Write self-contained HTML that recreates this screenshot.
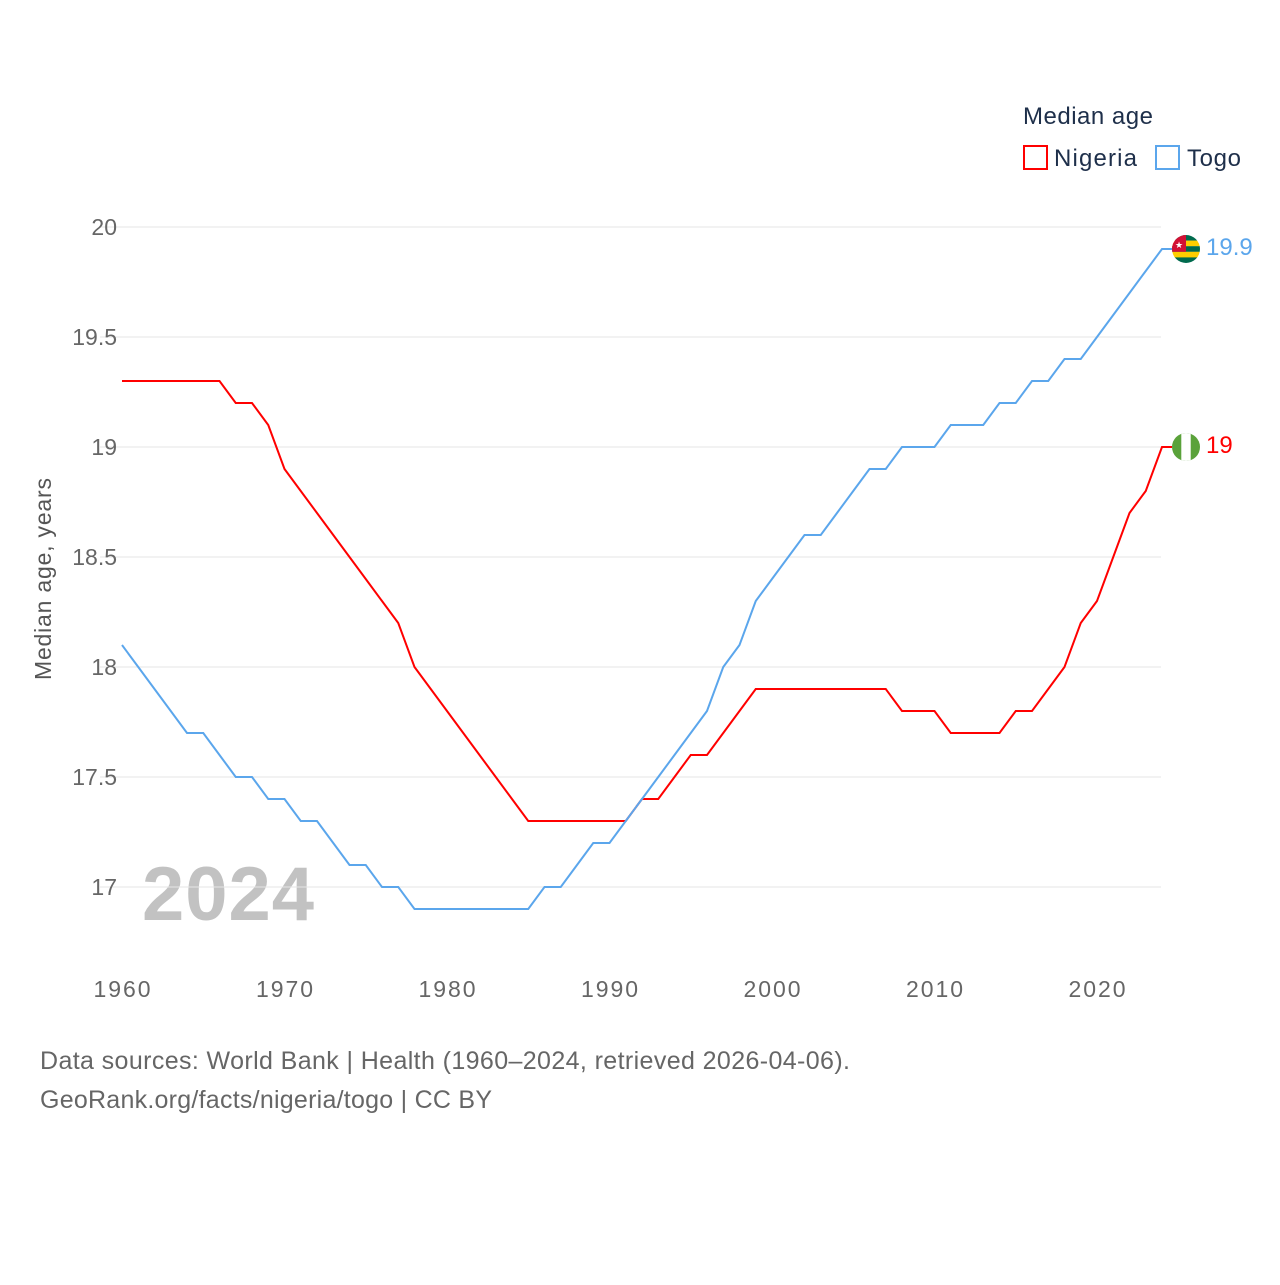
<!DOCTYPE html>
<html><head><meta charset="utf-8"><style>
body{margin:0;background:#fff;font-family:"Liberation Sans",sans-serif}
svg text{font-family:"Liberation Sans",sans-serif}
</style></head><body>
<svg width="1280" height="1280" id="c">
<text x="1023" y="124" font-size="24" fill="#1e2f4a" textLength="130">Median age</text>
<g><rect x="1024" y="146" width="23" height="23" fill="none" stroke="#f00" stroke-width="2"/><text x="1054" y="166" font-size="24" fill="#1e2f4a" textLength="83">Nigeria</text></g>
<g><rect x="1156" y="146" width="23" height="23" fill="none" stroke="#5ba6ec" stroke-width="2"/><text x="1187" y="166" font-size="24" fill="#1e2f4a" textLength="54">Togo</text></g>
<text transform="translate(51,579) rotate(-90)" text-anchor="middle" font-size="23" fill="#555" textLength="202">Median age, years</text>
<text x="142" y="920" font-size="76" font-weight="bold" fill="#c2c2c2" textLength="172">2024</text>
<g id="grid"></g><g id="lines"></g>
<text x="40" y="1069" font-size="25" fill="#666" textLength="810">Data sources: World Bank | Health (1960–2024, retrieved 2026-04-06).</text>
<text x="40" y="1108" font-size="25" fill="#666" textLength="452">GeoRank.org/facts/nigeria/togo | CC BY</text>
</svg>
<script>
const years=[];for(let y=1960;y<=2024;y++)years.push(y);
const nigeria=[19.3,19.3,19.3,19.3,19.3,19.3,19.3,19.2,19.2,19.1,18.9,18.8,18.7,18.6,18.5,18.4,18.3,18.2,18.0,17.9,17.8,17.7,17.6,17.5,17.4,17.3,17.3,17.3,17.3,17.3,17.3,17.3,17.4,17.4,17.5,17.6,17.6,17.7,17.8,17.9,17.9,17.9,17.9,17.9,17.9,17.9,17.9,17.9,17.8,17.8,17.8,17.7,17.7,17.7,17.7,17.8,17.8,17.9,18.0,18.2,18.3,18.5,18.7,18.8,19.0];
const togo=[18.1,18.0,17.9,17.8,17.7,17.7,17.6,17.5,17.5,17.4,17.4,17.3,17.3,17.2,17.1,17.1,17.0,17.0,16.9,16.9,16.9,16.9,16.9,16.9,16.9,16.9,17.0,17.0,17.1,17.2,17.2,17.3,17.4,17.5,17.6,17.7,17.8,18.0,18.1,18.3,18.4,18.5,18.6,18.6,18.7,18.8,18.9,18.9,19.0,19.0,19.0,19.1,19.1,19.1,19.2,19.2,19.3,19.3,19.4,19.4,19.5,19.6,19.7,19.8,19.9];
const yTicks=[17,17.5,18,18.5,19,19.5,20];
const yTickLabels=["17","17.5","18","18.5","19","19.5","20"];
const xTicks=[1960,1970,1980,1990,2000,2010,2020];
const X=v=>122+(v-1960)*16.25, Y=v=>887-(v-17)*220;
const NS="http://www.w3.org/2000/svg";
const g=document.getElementById('grid'),L=document.getElementById('lines');
function mk(t,a,p){const e=document.createElementNS(NS,t);for(const k in a)e.setAttribute(k,a[k]);p.appendChild(e);return e;}
yTicks.forEach((v,i)=>{const l=mk('line',{x1:100,x2:1161,y1:Y(v),y2:Y(v),stroke:'#e6e6e6'},g);


const t=mk('text',{x:117,y:Y(v)+8,'text-anchor':'end','font-size':23,fill:'#666'},g);t.textContent=yTickLabels[i];

});
xTicks.forEach(v=>{const t=mk('text',{x:X(v),y:997,'text-anchor':'middle','font-size':23,fill:'#666',textLength:57},g);t.textContent=v;

});
function line(d,c,n){const pts=d.map((v,i)=>X(years[i])+','+Y(v));pts.push('1172,'+Y(d[d.length-1]));
const p=mk('polyline',{points:pts.join(' '),fill:'none',stroke:c,'stroke-width':2},L);

}
line(nigeria,'#f00','nigeria-line');line(togo,'#5ba6ec','togo-line');
const ln=nigeria.length-1,lt=togo.length-1;
const ft=mk('g',{},L);
const cy=Y(togo[lt]),cx=1186;
mk('clipPath',{id:'ct'},ft);mk('circle',{cx:cx,cy:cy,r:14},ft.lastChild);
const tg=mk('g',{'clip-path':'url(#ct)'},ft);
['#006a4e','#ffce00','#006a4e','#ffce00','#006a4e'].forEach((c,i)=>mk('rect',{x:cx-14,y:cy-14+i*5.6,width:28,height:5.7,fill:c},tg));
mk('rect',{x:cx-14,y:cy-14,width:14,height:16.8,fill:'#d21034'},tg);
mk('text',{x:cx-7,y:cy-1,'text-anchor':'middle','font-size':9,fill:'#fff'},tg).textContent='★';
const tl=mk('text',{x:1206,y:cy+6,'font-size':24,fill:'#5ba6ec'},L);tl.textContent=togo[lt];

const fn=mk('g',{},L);
const ny=Y(nigeria[ln]);
mk('clipPath',{id:'cn'},fn);mk('circle',{cx:cx,cy:ny,r:14},fn.lastChild);
const ng=mk('g',{'clip-path':'url(#cn)'},fn);
mk('rect',{x:cx-14,y:ny-14,width:28,height:28,fill:'#5aa23a'},ng);mk('rect',{x:cx-4.7,y:ny-14,width:9.4,height:28,fill:'#fff'},ng);
const nl=mk('text',{x:1206,y:ny+6,'font-size':24,fill:'#f00'},L);nl.textContent=String(+nigeria[ln].toFixed(1));

</script>
</body></html>
